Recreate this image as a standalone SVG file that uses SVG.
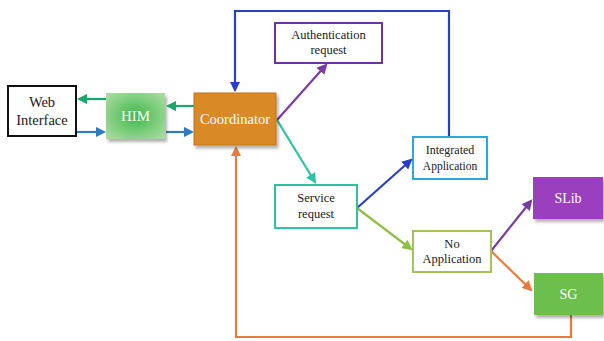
<svg xmlns="http://www.w3.org/2000/svg" width="604" height="341" viewBox="0 0 604 341">
<style>
.t{font-family:"Liberation Serif","Times New Roman",serif;text-anchor:middle;fill:#1a1a1a}
.w{fill:#ffffff}
.c{fill:none;stroke-width:2.2}
</style>
<defs>
<radialGradient id="gHim" cx="50%" cy="50%" r="65%">
<stop offset="0" stop-color="#3fb84a"/>
<stop offset="1" stop-color="#a8dca0"/>
</radialGradient>
<filter id="sh" x="-10%" y="-10%" width="130%" height="140%">
<feDropShadow dx="2" dy="3" stdDeviation="1.5" flood-color="#000" flood-opacity="0.3"/>
</filter>
<marker id="aBlue" viewBox="0 0 10 10" refX="8" refY="5" markerWidth="4.8" markerHeight="4.8" orient="auto"><path d="M0,0L10,5L0,10z" fill="#2a3fc8"/></marker>
<marker id="aBlue2" viewBox="0 0 10 10" refX="8" refY="5" markerWidth="4.8" markerHeight="4.8" orient="auto"><path d="M0,0L10,5L0,10z" fill="#2e7bc4"/></marker>
<marker id="aGreen" viewBox="0 0 10 10" refX="8" refY="5" markerWidth="4.8" markerHeight="4.8" orient="auto"><path d="M0,0L10,5L0,10z" fill="#1aa86a"/></marker>
<marker id="aTeal" viewBox="0 0 10 10" refX="8" refY="5" markerWidth="4.8" markerHeight="4.8" orient="auto"><path d="M0,0L10,5L0,10z" fill="#2cc4a0"/></marker>
<marker id="aPurple" viewBox="0 0 10 10" refX="8" refY="5" markerWidth="4.8" markerHeight="4.8" orient="auto"><path d="M0,0L10,5L0,10z" fill="#7a3aa8"/></marker>
<marker id="aOlive" viewBox="0 0 10 10" refX="8" refY="5" markerWidth="4.8" markerHeight="4.8" orient="auto"><path d="M0,0L10,5L0,10z" fill="#8fc046"/></marker>
<marker id="aOrange" viewBox="0 0 10 10" refX="8" refY="5" markerWidth="4.8" markerHeight="4.8" orient="auto"><path d="M0,0L10,5L0,10z" fill="#ea7a3a"/></marker>
</defs>
<rect width="604" height="341" fill="#ffffff"/>
<g id="connectors">
<path class="c" d="M106,99H79" stroke="#1aa86a" marker-end="url(#aGreen)"/>
<path class="c" d="M77,132H104" stroke="#2e7bc4" marker-end="url(#aBlue2)"/>
<path class="c" d="M194,106H168" stroke="#1aa86a" marker-end="url(#aGreen)"/>
<path class="c" d="M166,132H192" stroke="#2e7bc4" marker-end="url(#aBlue2)"/>
<path class="c" d="M449,137V11H235V90" stroke="#2a3fc8" marker-end="url(#aBlue)"/>
<path class="c" d="M277,120L326,65" stroke="#7a3aa8" marker-end="url(#aPurple)"/>
<path class="c" d="M277,120L315,182" stroke="#2cc4a0" marker-end="url(#aTeal)"/>
<path class="c" d="M357,208L411,160" stroke="#2a3fc8" marker-end="url(#aBlue)"/>
<path class="c" d="M357,208L411,249" stroke="#8fc046" marker-end="url(#aOlive)"/>
<path class="c" d="M491,251L531,201" stroke="#7a3aa8" marker-end="url(#aPurple)"/>
<path class="c" d="M491,251L531,290" stroke="#ea7a3a" marker-end="url(#aOrange)"/>
<path class="c" d="M571,315V337H236V148" stroke="#ea7a3a" marker-end="url(#aOrange)"/>
</g>
<g id="web-interface">
<rect x="8" y="86" width="68" height="50" fill="#ffffff" stroke="#111111" stroke-width="2"/>
<text class="t" x="42" y="107" font-size="14.5">Web</text>
<text class="t" x="42" y="125" font-size="14.5">Interface</text>
</g>
<g id="him">
<rect x="106" y="93" width="59" height="46" fill="url(#gHim)" filter="url(#sh)"/>
<text class="t w" x="135.5" y="121" font-size="15">HIM</text>
</g>
<g id="coordinator">
<rect x="194" y="93" width="82" height="52" fill="#d98a28" stroke="#c07418" stroke-width="1" filter="url(#sh)"/>
<text class="t w" x="235" y="124" font-size="14.5">Coordinator</text>
</g>
<g id="auth-request">
<rect x="275" y="23" width="107" height="40" fill="#ffffff" stroke="#7030a0" stroke-width="2"/>
<text class="t" x="328.5" y="39" font-size="12.5">Authentication</text>
<text class="t" x="328.5" y="54" font-size="12.5">request</text>
</g>
<g id="service-request">
<rect x="275" y="185" width="82" height="43" fill="#ffffff" stroke="#2cc4a0" stroke-width="2"/>
<text class="t" x="316" y="202" font-size="12.5">Service</text>
<text class="t" x="316" y="218" font-size="12.5">request</text>
</g>
<g id="integrated-application">
<rect x="413" y="137" width="74" height="42" fill="#ffffff" stroke="#2aa8e0" stroke-width="2"/>
<text class="t" x="450" y="154" font-size="12">Integrated</text>
<text class="t" x="450" y="170" font-size="11.5">Application</text>
</g>
<g id="no-application">
<rect x="413" y="231" width="78" height="41" fill="#ffffff" stroke="#a3c35a" stroke-width="2"/>
<text class="t" x="452" y="248" font-size="12.5">No</text>
<text class="t" x="452" y="263" font-size="12.5">Application</text>
</g>
<g id="slib">
<rect x="533" y="177" width="70" height="42" fill="#9a3fbf" filter="url(#sh)"/>
<text class="t w" x="568" y="203" font-size="14">SLib</text>
</g>
<g id="sg">
<rect x="534" y="273" width="69" height="42" fill="#6cbf4e" filter="url(#sh)"/>
<text class="t w" x="568.5" y="299" font-size="14">SG</text>
</g>
</svg>
